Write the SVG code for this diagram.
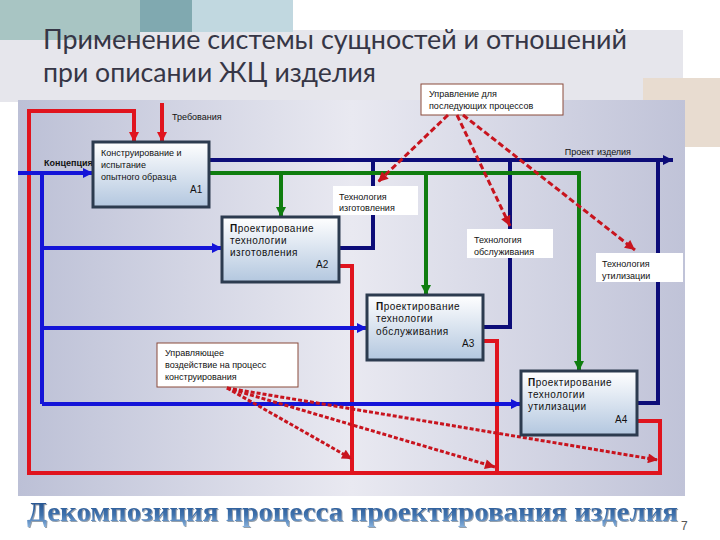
<svg xmlns="http://www.w3.org/2000/svg" width="720" height="540" viewBox="0 0 720 540">
<defs>
<linearGradient id="panelG" x1="0" y1="0" x2="1" y2="0">
<stop offset="0" stop-color="#bcc0d6"/><stop offset="0.5" stop-color="#e9e9f1"/><stop offset="1" stop-color="#c0c3d8"/>
</linearGradient>
<linearGradient id="boxG" x1="0" y1="0" x2="0" y2="1">
<stop offset="0" stop-color="#ffffff"/><stop offset="1" stop-color="#b3c7df"/>
</linearGradient>
<linearGradient id="titleG" x1="0" y1="0" x2="0" y2="1">
<stop offset="0" stop-color="#1d4a86"/><stop offset="0.6" stop-color="#3f72ad"/><stop offset="1" stop-color="#86b0dc"/>
</linearGradient>
<filter id="sh" x="-5%" y="-20%" width="110%" height="150%">
<feDropShadow dx="1" dy="1" stdDeviation="0.6" flood-color="#7a8796" flood-opacity="0.8"/>
</filter>
<marker id="mNavy" viewBox="0 0 10 10" refX="10" refY="5" markerWidth="12" markerHeight="10" markerUnits="userSpaceOnUse" orient="auto"><path d="M0,0 L10,5 L0,10 z" fill="#0c0c78"/></marker>
<marker id="mBlue" viewBox="0 0 10 10" refX="10" refY="5" markerWidth="12" markerHeight="10" markerUnits="userSpaceOnUse" orient="auto"><path d="M0,0 L10,5 L0,10 z" fill="#1414d8"/></marker>
<marker id="mGreen" viewBox="0 0 10 10" refX="10" refY="5" markerWidth="12" markerHeight="10" markerUnits="userSpaceOnUse" orient="auto"><path d="M0,0 L10,5 L0,10 z" fill="#0f7d0f"/></marker>
<marker id="mRed" viewBox="0 0 10 10" refX="10" refY="5" markerWidth="12" markerHeight="10" markerUnits="userSpaceOnUse" orient="auto"><path d="M0,0 L10,5 L0,10 z" fill="#e0141e"/></marker>
<marker id="mDash" viewBox="0 0 10 10" refX="10" refY="5" markerWidth="12" markerHeight="10" markerUnits="userSpaceOnUse" orient="auto"><path d="M0,0 L10,5 L0,10 z" fill="#c8141e"/></marker>
</defs>
<style>
.navy{fill:none;stroke:#0c0c78;stroke-width:4}
.blue{fill:none;stroke:#1414d8;stroke-width:4}
.green{fill:none;stroke:#0f7d0f;stroke-width:4}
.red{fill:none;stroke:#e0141e;stroke-width:4}
.dash{fill:none;stroke:#c8141e;stroke-width:3;stroke-dasharray:6 3}
.dash2{fill:none;stroke:#c8141e;stroke-width:3;stroke-dasharray:4 2}
.box{fill:url(#boxG);stroke:#2c3b4f;stroke-width:3}
.lbl{fill:#ffffff}
.lblb{fill:#ffffff;stroke:#8a4a3a;stroke-width:1}
.t{font-family:"Liberation Sans",Arial,sans-serif;font-size:9px;fill:#111}
.tb{font-family:"Liberation Sans",Arial,sans-serif;font-size:10px;fill:#111;letter-spacing:0.5px}
.num{font-family:"Liberation Sans",Arial,sans-serif;font-size:10px;fill:#111}
.title{font-family:Lato,"Open Sans",sans-serif;font-size:26px;fill:#363646}
</style>
<!-- background -->
<rect x="0" y="0" width="720" height="540" fill="#ffffff"/>
<rect x="0" y="30" width="683" height="72" fill="#e6e6ec"/>
<rect x="0" y="0" width="140" height="40" fill="#a8c5c3"/>
<rect x="140" y="0" width="52" height="32" fill="#80a9b0"/>
<rect x="192" y="0" width="101" height="32" fill="#c1d8e0"/>
<rect x="643" y="78" width="77" height="69" fill="#e8dcd0"/>
<text class="title" x="43" y="49" textLength="584" lengthAdjust="spacingAndGlyphs">Применение системы сущностей и отношений</text>
<text class="title" x="43" y="82" textLength="333" lengthAdjust="spacingAndGlyphs">при описании ЖЦ изделия</text>
<rect x="18" y="100" width="667" height="396" fill="url(#panelG)"/>
<!-- connectors -->
<g id="connectors">
<path class="red" d="M637,421 H660 V473 H29 V111 H134 V142" marker-end="url(#mRed)"/>
<path class="red" d="M339,266 H352 V473"/>
<path class="red" d="M483,341 H497 V473"/>
<path class="red" d="M162,103 V142" marker-end="url(#mRed)"/>
<path class="blue" d="M18,173 H93" marker-end="url(#mBlue)"/>
<path class="blue" d="M42,173 V404"/>
<path class="blue" d="M42,248 H222" marker-end="url(#mBlue)"/>
<path class="blue" d="M42,328 H367" marker-end="url(#mBlue)"/>
<path class="blue" d="M42,404 H521" marker-end="url(#mBlue)"/>
<path class="navy" d="M209,160 H673" marker-end="url(#mNavy)"/>
<path class="navy" d="M339,248 H373 V160"/>
<path class="navy" d="M483,327 H510 V160"/>
<path class="navy" d="M637,403 H658 V160"/>
<path class="green" d="M209,173 H579 V371" marker-end="url(#mGreen)"/>
<path class="green" d="M281,173 V217" marker-end="url(#mGreen)"/>
<path class="green" d="M426,173 V295" marker-end="url(#mGreen)"/>
</g>
<!-- labels -->
<g id="lbl-tech1"><rect class="lbl" x="333" y="186" width="85" height="29"/>
<text class="t" x="339" y="200">Технология</text><text class="t" x="339" y="211">изготовления</text></g>
<g id="lbl-tech2"><rect class="lbl" x="467" y="229" width="86" height="29"/>
<text class="t" x="474" y="243">Технология</text><text class="t" x="474" y="255">обслуживания</text></g>
<g id="lbl-tech3"><rect class="lbl" x="596" y="253" width="87" height="29"/>
<text class="t" x="602" y="267">Технология</text><text class="t" x="602" y="279">утилизации</text></g>
<g id="lbl-ctrl"><rect class="lblb" x="421" y="84" width="142" height="31"/>
<text class="t" x="429" y="97">Управление для</text><text class="t" x="429" y="109">последующих  процессов</text></g>
<g id="lbl-act"><rect class="lblb" x="157" y="343" width="141" height="44"/>
<text class="t" x="165" y="356">Управляющее</text><text class="t" x="165" y="368">воздействие на процесс</text><text class="t" x="165" y="380">конструирования</text></g>
<text class="t" x="172" y="120" font-size="8.5">Требования</text>
<text class="t" x="44" y="166" font-size="7" font-weight="bold">Концепция</text>
<text class="t" x="631" y="155" font-size="8.5" text-anchor="end">Проект изделия</text>
<!-- dashed arrows -->
<g id="dashed">
<path class="dash" d="M448,115 L378,182" marker-end="url(#mDash)"/>
<path class="dash" d="M457,115 L510,226" marker-end="url(#mDash)"/>
<path class="dash" d="M463,115 L635,250" marker-end="url(#mDash)"/>
<path class="dash2" d="M227,388 L352,459" marker-end="url(#mDash)"/>
<path class="dash2" d="M227,388 L495,467" marker-end="url(#mDash)"/>
<path class="dash2" d="M227,388 L658,460" marker-end="url(#mDash)"/>
</g>
<!-- boxes -->
<g id="A1"><rect class="box" x="93" y="142" width="116" height="65"/>
<text class="t" x="101" y="156">Конструирование и</text><text class="t" x="101" y="168">испытание</text><text class="t" x="101" y="180">опытного образца</text>
<text class="num" x="190" y="193">A1</text></g>
<g id="A2"><rect class="box" x="222" y="217" width="117" height="65"/>
<text class="tb" x="230" y="232"><tspan font-weight="bold">П</tspan>роектирование</text><text class="tb" x="230" y="244">технологии</text><text class="tb" x="230" y="256">изготовления</text>
<text class="num" x="316" y="268">A2</text></g>
<g id="A3"><rect class="box" x="367" y="295" width="116" height="65"/>
<text class="tb" x="376" y="310"><tspan font-weight="bold">П</tspan>роектирование</text><text class="tb" x="376" y="322">технологии</text><text class="tb" x="376" y="335">обслуживания</text>
<text class="num" x="462" y="347">A3</text></g>
<g id="A4"><rect class="box" x="521" y="371" width="116" height="64"/>
<text class="tb" x="528" y="386"><tspan font-weight="bold">П</tspan>роектирование</text><text class="tb" x="528" y="398">технологии</text><text class="tb" x="528" y="410">утилизации</text>
<text class="num" x="615" y="423">A4</text></g>
<text x="27" y="521" textLength="651" lengthAdjust="spacingAndGlyphs" font-family="'Liberation Serif','Times New Roman',serif" font-weight="bold" font-size="27" fill="url(#titleG)" filter="url(#sh)">Декомпозиция процесса проектирования изделия</text>
<text x="681" y="530" font-family="'Liberation Sans',Arial,sans-serif" font-size="12" fill="#555">7</text>
</svg>
